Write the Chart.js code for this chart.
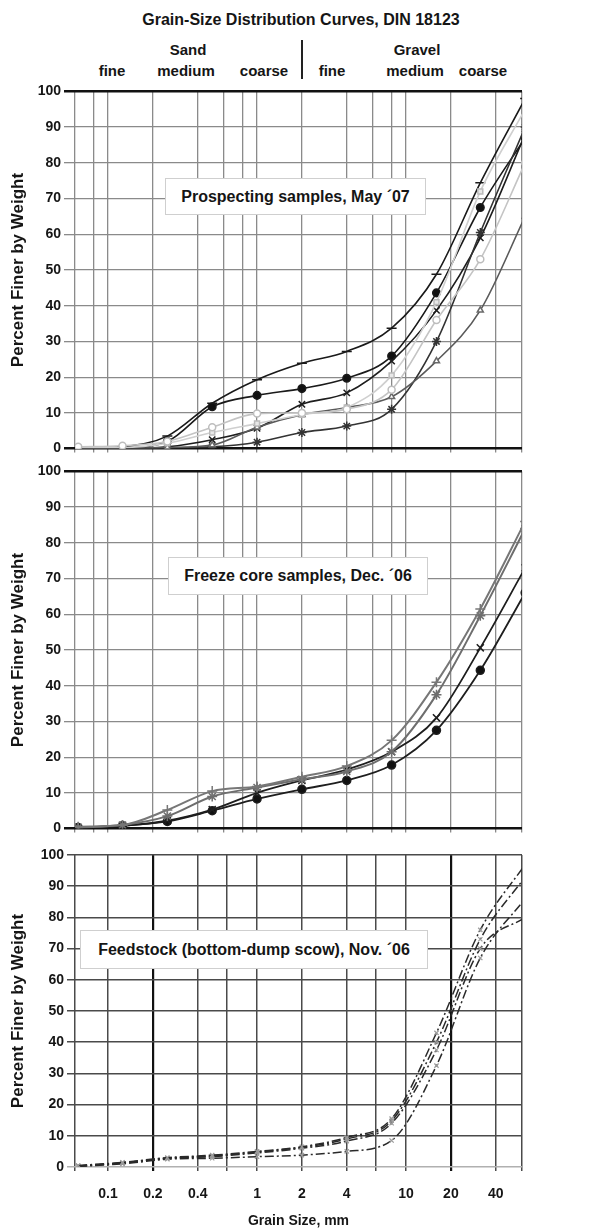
<!DOCTYPE html>
<html><head><meta charset="utf-8">
<script src="https://cdn.jsdelivr.net/npm/chart.js@4/dist/chart.umd.min.js"></script>
<style>
html,body{margin:0;padding:0;background:#fff;}
body{width:603px;height:1228px;position:relative;overflow:hidden;font-family:"Liberation Sans",Arial,sans-serif;font-weight:bold;color:#151515;}
.t{position:absolute;white-space:nowrap;transform:translate(-50%,-50%);line-height:1;}
.box{position:absolute;background:#fff;border:1px solid #cfcfcf;display:flex;align-items:center;justify-content:center;font-size:16px;white-space:nowrap;}
canvas{position:absolute;left:0;}
</style></head><body>
<div class="t" style="left:301px;top:20px;font-size:16px">Grain-Size Distribution Curves, DIN 18123</div>
<div class="t" style="left:188px;top:49px;font-size:15px">Sand</div>
<div class="t" style="left:417px;top:49px;font-size:15px">Gravel</div>
<div class="t" style="left:112px;top:70px;font-size:15px">fine</div>
<div class="t" style="left:186px;top:70px;font-size:15px">medium</div>
<div class="t" style="left:264px;top:70px;font-size:15px">coarse</div>
<div class="t" style="left:332px;top:70px;font-size:15px">fine</div>
<div class="t" style="left:415px;top:70px;font-size:15px">medium</div>
<div class="t" style="left:483px;top:70px;font-size:15px">coarse</div>
<div style="position:absolute;left:301px;top:40px;width:2px;height:39px;background:#222"></div>

<canvas id="c1" width="603" height="380" style="top:80px"></canvas>
<canvas id="c2" width="603" height="380" style="top:460px"></canvas>
<canvas id="c3" width="603" height="388" style="top:840px"></canvas>

<div class="box" style="left:165px;top:178px;width:259px;height:35px">Prospecting samples, May ´07</div>
<div class="box" style="left:168px;top:557px;width:258px;height:36px">Freeze core samples, Dec. ´06</div>
<div class="box" style="left:80px;top:930px;width:346px;height:37px">Feedstock (bottom-dump scow), Nov. ´06</div>

<script>
// ---- data ----
const sieveSizes = [0.063, 0.125, 0.25, 0.5, 1, 2, 4, 8, 16, 31.5, 63];

// Prospecting samples, May '07
const prospectLight1 = [0.5, 0.8, 2, 6, 9.8, 10, 11, 16.5, 36, 53, 80];
const prospectLight2 = [0.3, 0.3, 1.5, 4.5, 7, 9.5, 11.5, 20.5, 41, 72, 95];
const prospectTriangle = [0, 0, 0.3, 1, 6, 9.5, 11.5, 14.5, 24.5, 38.7, 65];
const prospectStar = [0, 0, 0.2, 0.5, 1.8, 4.5, 6.3, 11, 30, 60.5, 90];
const prospectCross = [0, 0, 0.5, 2.5, 5.7, 12.4, 15.6, 24.5, 38.7, 59, 88];
const prospectDot = [0, 0.2, 2, 11.7, 14.9, 16.8, 19.7, 25.9, 43.6, 67.5, 87];
const prospectDash = [0, 0.5, 3.5, 12.7, 19.3, 23.9, 27.2, 33.7, 48.8, 74.4, 98];

// Freeze core samples, Dec. '06
const freezePlus = [0.5, 1, 5.2, 10.5, 11.8, 14.5, 17.5, 24.7, 41, 61.5, 86];
const freezeStar = [0.3, 1, 3.5, 9, 11.5, 13.8, 16, 21.5, 37.5, 59.6, 84];
const freezeCross = [0.3, 0.8, 2.2, 5.3, 10, 13.5, 16.5, 21.5, 31, 50.6, 73];
const freezeDot = [0.3, 0.8, 2, 5, 8.3, 11, 13.5, 17.8, 27.5, 44.3, 66];

// Feedstock (bottom-dump scow), Nov. '06
const feed1 = [0.5, 1.5, 3, 3.8, 5, 6.5, 9.5, 15.5, 43, 76, 97];
const feed2 = [0.3, 1.3, 2.8, 3.5, 4.8, 6.3, 9, 14.8, 40, 73, 93];
const feed3 = [0.3, 1.3, 2.8, 3.3, 4.5, 6, 8.3, 14, 37.5, 70, 80];
const feed4 = [0.2, 1, 2.5, 2.8, 3.3, 3.8, 5, 8.5, 32.5, 67, 86];

// axis ticks
const gridTicksMain = [0.06, 0.08, 0.1, 0.2, 0.4, 0.6, 0.8, 1, 2, 4, 6, 8, 10, 20, 40, 60];
const gridTicksFeed = [0.06, 0.1, 0.2, 0.4, 0.63, 1, 2, 4, 6.3, 10, 20, 40, 60];
const xLabelValues = [0.1, 0.2, 0.4, 1, 2, 4, 10, 20, 40];
const yTickValues = [0, 10, 20, 30, 40, 50, 60, 70, 80, 90, 100];

const FONT = "'Liberation Sans', Arial, sans-serif";
Chart.defaults.font.family = FONT;
Chart.defaults.font.weight = 'bold';
Chart.defaults.color = '#151515';

function series(values, o) {
  return Object.assign({
    data: sieveSizes.map((s, i) => ({x: s, y: values[i]})),
    borderWidth: 1.6,
    pointRadius: 3.5,
    pointBorderWidth: 1.5,
    cubicInterpolationMode: 'monotone',
    fill: false
  }, o);
}

function makeChart(id, datasets, cfg) {
  return new Chart(document.getElementById(id), {
    type: 'line',
    data: {datasets},
    options: {
      responsive: false,
      animation: false,
      devicePixelRatio: 1,
      layout: {padding: {top: cfg.padTop, right: 81, left: 0, bottom: 0}},
      plugins: {legend: {display: false}, tooltip: {enabled: false}},
      scales: {
        x: {
          type: 'logarithmic', min: 0.06, max: 60,
          afterBuildTicks: s => { s.ticks = cfg.xGrid.map(v => ({value: v})); },
          afterFit: s => { s.height = cfg.xHeight; },
          border: {display: false},
          grid: {
            tickLength: cfg.xTickLen,
            color: c => (cfg.heavyX && c.tick && cfg.heavyX.includes(c.tick.value)) ? '#111' : cfg.gridColor,
            lineWidth: c => (cfg.heavyX && c.tick && cfg.heavyX.includes(c.tick.value)) ? 2.2 : cfg.gridWidth
          },
          ticks: {
            display: cfg.showXLabels, autoSkip: false, maxRotation: 0, padding: 15,
            font: {size: 14, weight: 'bold'},
            callback: v => xLabelValues.includes(v) ? String(v) : ''
          },
          title: {display: cfg.showXLabels, text: 'Grain Size, mm', font: {size: 14, weight: 'bold', lineHeight: 1}, padding: {top: 4, bottom: 0}}
        },
        y: {
          min: 0, max: 100,
          afterBuildTicks: s => { s.ticks = yTickValues.map(v => ({value: v})); },
          afterFit: s => { s.width = 75; },
          border: {display: false},
          grid: {
            tickLength: cfg.yTickLen,
            color: c => (c.tick && cfg.heavyY.includes(c.tick.value)) ? '#111' : (c.tick && cfg.lightY && cfg.lightY.includes(c.tick.value) ? '#b0b0b0' : cfg.gridColor),
            lineWidth: c => (c.tick && cfg.heavyY.includes(c.tick.value)) ? 2.5 : cfg.gridWidth
          },
          ticks: {padding: 3, font: {size: 14, weight: 'bold'}},
          title: {display: true, text: 'Percent Finer by Weight', font: {size: 17, weight: 'bold'}, padding: {top: 8, bottom: 0}}
        }
      }
    }
  });
}

makeChart('c1', [
  series(prospectLight1, {borderColor: '#c4c4c4', backgroundColor: '#fff', pointStyle: 'circle', pointBorderColor: '#bdbdbd'}),
  series(prospectLight2, {borderColor: '#cfcfcf', backgroundColor: '#e8e8e8', pointStyle: 'rect', pointBorderColor: '#bbbbbb'}),
  series(prospectTriangle, {borderColor: '#5a5a5a', backgroundColor: '#fff', pointStyle: 'triangle', pointBorderColor: '#6a6a6a'}),
  series(prospectStar, {borderColor: '#333', backgroundColor: '#333', pointStyle: 'star', pointRadius: 4.5}),
  series(prospectCross, {borderColor: '#1e1e1e', backgroundColor: '#1e1e1e', pointStyle: 'crossRot', pointRadius: 4.5}),
  series(prospectDot, {borderColor: '#1a1a1a', backgroundColor: '#111', pointStyle: 'circle', pointRadius: 3.8}),
  series(prospectDash, {borderColor: '#1a1a1a', backgroundColor: '#1a1a1a', pointStyle: 'line', pointRadius: 5})
], {padTop: 7, xHeight: 10, xTickLen: 4, yTickLen: 11, showXLabels: false, xGrid: gridTicksMain,
    heavyY: [0, 100], gridColor: '#8a8a8a', gridWidth: 1.3});

makeChart('c2', [
  series(freezePlus, {borderColor: '#777', backgroundColor: '#777', pointStyle: 'cross', pointRadius: 5, borderWidth: 2}),
  series(freezeStar, {borderColor: '#6e6e6e', backgroundColor: '#6e6e6e', pointStyle: 'star', pointRadius: 5, borderWidth: 2}),
  series(freezeCross, {borderColor: '#1e1e1e', backgroundColor: '#1e1e1e', pointStyle: 'crossRot', pointRadius: 5, borderWidth: 1.8}),
  series(freezeDot, {borderColor: '#1e1e1e', backgroundColor: '#111', pointStyle: 'circle', pointRadius: 4, borderWidth: 1.8})
], {padTop: 8, xHeight: 8, xTickLen: 4, yTickLen: 11, showXLabels: false, xGrid: gridTicksMain,
    heavyY: [0, 100], gridColor: '#8a8a8a', gridWidth: 1.3});

const feedStyle = {borderColor: '#2a2a2a', backgroundColor: '#a8a8a8', pointBorderColor: '#9a9a9a',
  pointStyle: 'crossRot', pointRadius: 3, pointBorderWidth: 1.2, borderWidth: 1.5, borderDash: [9, 3, 2, 3]};
makeChart('c3', [
  series(feed1, feedStyle),
  series(feed2, feedStyle),
  series(feed3, feedStyle),
  series(feed4, feedStyle)
], {padTop: 15, xHeight: 61, xTickLen: 4, yTickLen: 8, showXLabels: true, xGrid: gridTicksFeed,
    heavyX: [0.2, 20], heavyY: [], lightY: [0], gridColor: '#4a4a4a', gridWidth: 1.5});
</script>
</body></html>
